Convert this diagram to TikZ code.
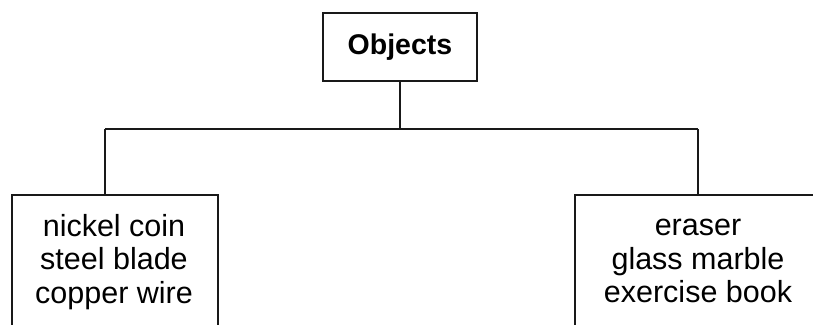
\documentclass[tikz,border=0pt]{standalone}
\usepackage{fontspec}
\setmainfont{Liberation Sans}
\begin{document}
\begin{tikzpicture}[x=1pt,y=-1pt,
  box/.style={draw=black!90, line width=1.6pt, rectangle, inner sep=0pt},
  link/.style={draw=black!90, line width=1.6pt},
  itemtext/.style={align=center, font=\fontsize{30.5}{33.5}\selectfont, inner sep=0pt}]
\useasboundingbox (0,0) rectangle (813,324);
\clip (0,0) rectangle (813,324);
% root of the classification
\node[box, minimum width=154pt, minimum height=68pt,
      font=\fontsize{28.5}{33}\selectfont\bfseries] (root) at (400,47) {Objects};
% the two groups (their boxes run past the lower and right edges)
\node[box, anchor=north west, minimum width=206pt, minimum height=170pt] (left) at (11,194) {};
\node[box, anchor=north west, minimum width=270pt, minimum height=170pt] (right) at (574,194) {};
\node[itemtext] (lefttext) at (114,262) {nickel coin\\steel blade\\copper wire};
\node[itemtext] (righttext) at (698,261) {eraser\\glass marble\\exercise book};
% branching connectors
\coordinate (split) at (root.south |- 0,129);
\coordinate (lj) at (105,129);
\coordinate (rj) at (698,129);
\draw[link] (root.south) -- (split);
\draw[link] (lj) -- (rj);
\draw[link] (lj) -- (lj |- left.north);
\draw[link] (rj) -- (rj |- right.north);
\end{tikzpicture}
\end{document}
